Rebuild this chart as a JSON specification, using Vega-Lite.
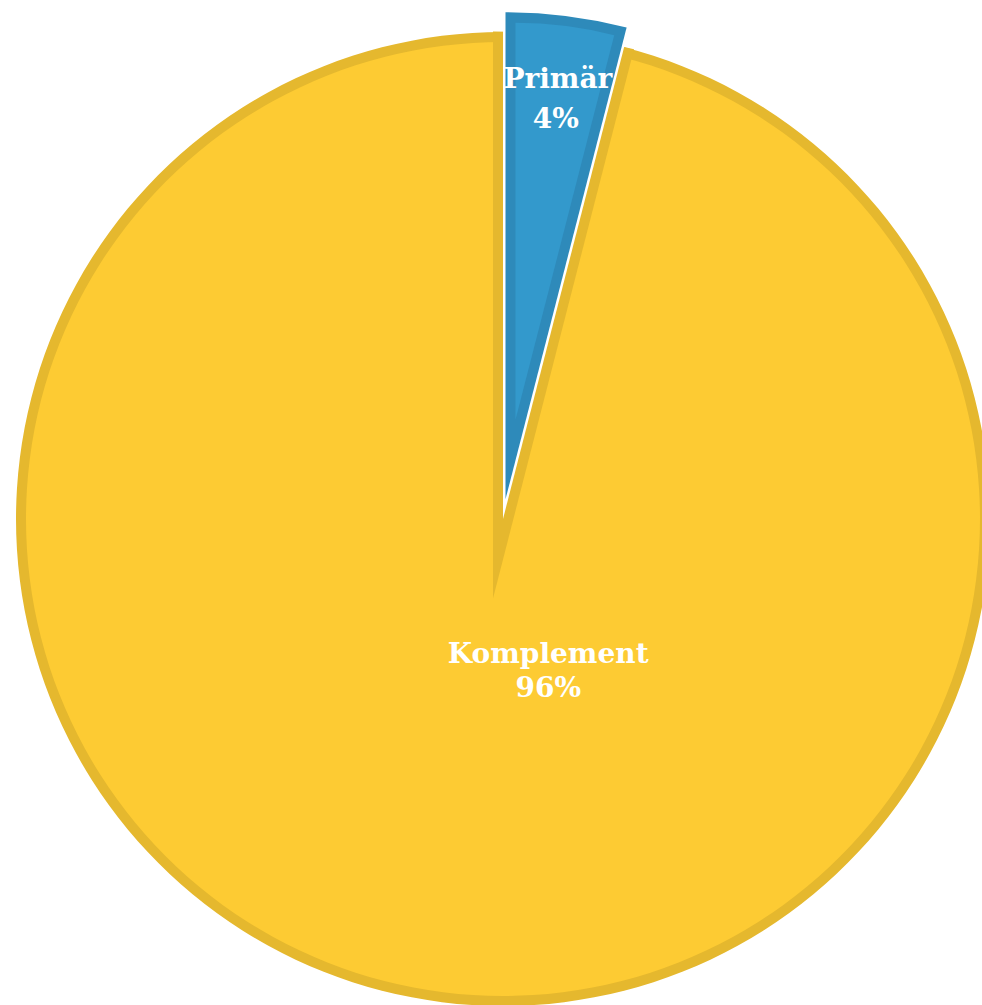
{
  "$schema": "https://vega.github.io/schema/vega-lite/v6.json",
  "width": 958,
  "height": 972,
  "autosize": {"type": "none"},
  "padding": {"left": 24, "top": 33, "right": 0, "bottom": 0},
  "background": "white",
  "config": {"view": {"stroke": null}},
  "data": {"values": [
    {"label": "Primär", "value": 0.04},
    {"label": "Komplement", "value": 0.96}
  ]},
  "layer": [
    {
      "transform": [{"stack": "value", "groupby": [], "as": ["v0", "v1"]}, {"filter": "datum.label === 'Komplement'"}],
      "mark": {"type": "arc", "radius": 487, "color": "#E5B82E"},
      "encoding": {"theta": {"field": "v0", "type": "quantitative", "scale": {"domain": [0, 1]}}, "theta2": {"field": "v1"}}
    },
    {
      "transform": [{"stack": "value", "groupby": [], "as": ["v0", "v1"]}, {"filter": "datum.label === 'Komplement'"}],
      "mark": {"type": "arc", "radius": 477, "color": "#FDCB33"},
      "encoding": {"theta": {"field": "v0", "type": "quantitative", "scale": {"domain": [0, 1]}}, "theta2": {"field": "v1"}}
    },
    {
      "transform": [{"stack": "value", "groupby": [], "as": ["v0", "v1"]}, {"filter": "datum.label === 'Primär'"}],
      "mark": {"type": "arc", "radius": 567, "color": "#E5B82E", "xOffset": -10, "yOffset": 79.4},
      "encoding": {"theta": {"field": "v0", "type": "quantitative", "scale": {"domain": [0, 1]}}, "theta2": {"field": "v1"}}
    },
    {
      "transform": [{"stack": "value", "groupby": [], "as": ["v0", "v1"]}, {"filter": "datum.label === 'Primär'"}],
      "mark": {"type": "arc", "radius": 489, "color": "#FFFFFF"},
      "encoding": {"theta": {"field": "v0", "type": "quantitative", "scale": {"domain": [0, 1]}}, "theta2": {"field": "v1"}}
    },
    {
      "transform": [{"stack": "value", "groupby": [], "as": ["v0", "v1"]}, {"filter": "datum.label === 'Primär'"}],
      "mark": {"type": "arc", "radius": 487, "color": "#2E8ABA", "xOffset": 2.5, "yOffset": -19.8},
      "encoding": {"theta": {"field": "v0", "type": "quantitative", "scale": {"domain": [0, 1]}}, "theta2": {"field": "v1"}}
    },
    {
      "transform": [{"stack": "value", "groupby": [], "as": ["v0", "v1"]}, {"filter": "datum.label === 'Primär'"}],
      "mark": {"type": "arc", "radius": 397, "color": "#3399CC", "xOffset": 12.5, "yOffset": -99.2},
      "encoding": {"theta": {"field": "v0", "type": "quantitative", "scale": {"domain": [0, 1]}}, "theta2": {"field": "v1"}}
    },
    {
      "mark": {"type": "text", "radius": 414, "dx": 3, "dy": -20, "font": "DejaVu Serif", "fontWeight": "bold", "fontSize": 28, "color": "#FFFFFF", "align": "center", "baseline": "alphabetic"},
      "encoding": {
        "theta": {"field": "value", "type": "quantitative", "stack": true, "scale": {"domain": [0, 1]}},
        "order": {"field": "value", "type": "quantitative", "sort": "ascending"},
        "text": {"condition": {"test": "datum.label === 'Primär'", "field": "label", "type": "nominal"}, "value": ""}
      }
    },
    {
      "mark": {"type": "text", "radius": 414, "dx": 1, "dy": 20, "font": "DejaVu Serif", "fontWeight": "bold", "fontSize": 28, "color": "#FFFFFF", "align": "center", "baseline": "alphabetic"},
      "encoding": {
        "theta": {"field": "value", "type": "quantitative", "stack": true, "scale": {"domain": [0, 1]}},
        "order": {"field": "value", "type": "quantitative", "sort": "ascending"},
        "text": {"condition": {"test": "datum.label === 'Primär'", "field": "value", "type": "quantitative", "format": ".0%"}, "value": ""}
      }
    },
    {
      "mark": {"type": "text", "radius": 162, "dx": 65.5, "dy": -17, "font": "DejaVu Serif", "fontWeight": "bold", "fontSize": 28, "color": "#FFFFFF", "align": "center", "baseline": "alphabetic"},
      "encoding": {
        "theta": {"field": "value", "type": "quantitative", "stack": true, "scale": {"domain": [0, 1]}},
        "order": {"field": "value", "type": "quantitative", "sort": "ascending"},
        "text": {"condition": {"test": "datum.label === 'Komplement'", "field": "label", "type": "nominal"}, "value": ""}
      }
    },
    {
      "mark": {"type": "text", "radius": 162, "dx": 65.5, "dy": 17, "font": "DejaVu Serif", "fontWeight": "bold", "fontSize": 28, "color": "#FFFFFF", "align": "center", "baseline": "alphabetic"},
      "encoding": {
        "theta": {"field": "value", "type": "quantitative", "stack": true, "scale": {"domain": [0, 1]}},
        "order": {"field": "value", "type": "quantitative", "sort": "ascending"},
        "text": {"condition": {"test": "datum.label === 'Komplement'", "field": "value", "type": "quantitative", "format": ".0%"}, "value": ""}
      }
    }
  ]
}
